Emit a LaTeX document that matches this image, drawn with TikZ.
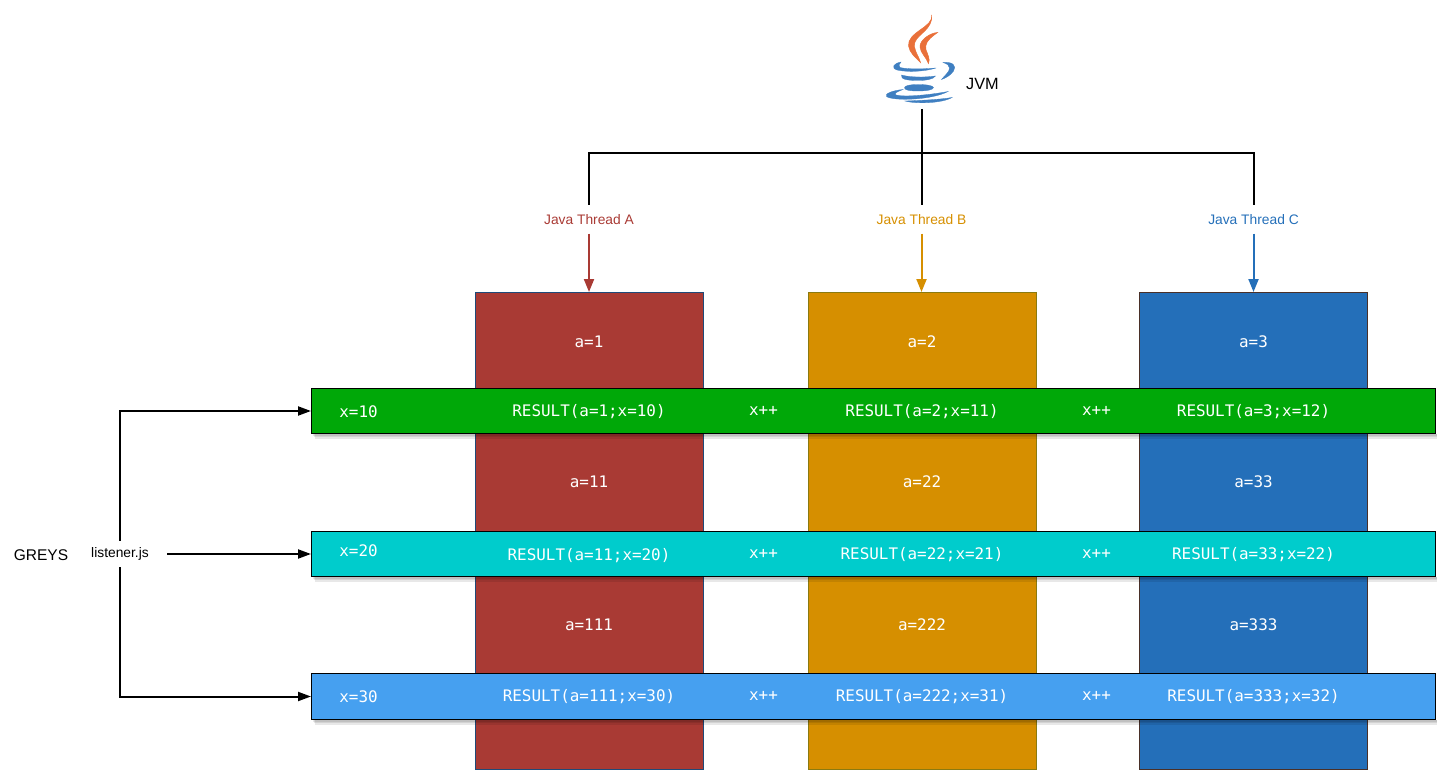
\documentclass[tikz,border=0pt]{standalone}
\usepackage{fontspec}
\setmainfont{Liberation Sans}
\newfontfamily\codefont{DejaVu Sans Mono}
\usetikzlibrary{arrows.meta,calc}
\definecolor{cred}{HTML}{A93A34}
\definecolor{corange}{HTML}{D68F00}
\definecolor{cblue}{HTML}{246FB9}
\definecolor{cgreen}{HTML}{00A808}
\definecolor{ccyan}{HTML}{00CCCC}
\definecolor{clight}{HTML}{46A0F0}
\definecolor{flame}{HTML}{E9703A}
\definecolor{cup}{HTML}{3F7FC1}
\definecolor{edgea}{HTML}{1F4A78}
\definecolor{edgeb}{HTML}{8A7A10}
\definecolor{edgec}{HTML}{4A3028}
\tikzset{
  column/.style={draw=#1,line width=1pt,minimum width=228pt,minimum height=477pt,inner sep=0pt},
  bar/.style={draw=black,line width=1pt,fill=#1,minimum width=1124pt,inner sep=0pt},
  code/.style={text=white,font=\codefont\fontsize{15.9}{17}\selectfont,inner sep=0pt},
  thread/.style={text=#1,font=\fontsize{13.8}{15}\selectfont,minimum height=28pt,inner sep=0pt},
  link/.style={line width=2pt,black},
  tiplink/.style={line width=2pt,-{Triangle[length=13pt,width=9pt]}},
  threadtip/.style={line width=2pt,#1,-{Triangle[length=13pt,width=10pt]}},
  flamepart/.style={fill=flame,draw=flame,line width=0.5pt},
  cuppart/.style={fill=cup,draw=cup,line width=0.3pt},
  barshadow/.style={fill=black,opacity=0.09}
}
\begin{document}
\begin{tikzpicture}[x=1pt,y=-1pt]
\useasboundingbox (0,0) rectangle (1447,781);
% logo
\filldraw[flamepart] (931.7,15) .. controls (934,27) and (907,32) .. (908.5,46) .. controls (909.5,53) and (916,58) .. (920.5,62.5) .. controls (918,54) and (912.5,49) .. (915,42) .. controls (918,34) and (933,29) .. (931.7,15) -- cycle;
\filldraw[flamepart] (937.5,32.5) .. controls (930,33) and (919.5,40) .. (920,47) .. controls (920.5,53) and (926,57) .. (928.5,63.5) .. controls (931,56) and (924.5,51) .. (925.7,46) .. controls (926.5,40) and (933,36) .. (937.5,32.5) -- cycle;
\filldraw[cuppart] (901,62) .. controls (893,63.5) and (891,68) .. (897,70) .. controls (908,72.5) and (925,71.5) .. (936,68) .. controls (925,69) and (908,69.5) .. (900,67.5) .. controls (898,66) and (899,64) .. (901,62) -- cycle;
\filldraw[cuppart] (901.5,75) .. controls (900,79.5) and (908,80.5) .. (918,80.5) .. controls (926,80.5) and (933,79.5) .. (935.5,76) .. controls (925,77.5) and (910,77.5) .. (901.5,75) -- cycle;
\filldraw[cuppart] (918,84.5) .. controls (909,84.5) and (904,86) .. (904.5,88) .. controls (905,90.5) and (911,91) .. (918,91) .. controls (926,91) and (933.5,90) .. (933.5,87.5) .. controls (933,85.5) and (926,84.5) .. (918,84.5) -- cycle;
\filldraw[cuppart] (903,89.5) .. controls (892,90.5) and (884,94) .. (886.5,96.5) .. controls (892,101) and (931,100.5) .. (948,91.5) .. controls (932,94.5) and (905,97.5) .. (896,95) .. controls (893,93.5) and (898,91.5) .. (903,89.5) -- cycle;
\filldraw[cuppart] (905,101) .. controls (915,104) and (942,103.5) .. (952,97.5) .. controls (940,99.5) and (920,100.5) .. (905,101) -- cycle;
\filldraw[cuppart] (943,62.5) .. controls (953,61.5) and (957,66) .. (953.5,71) .. controls (951,75) and (946,78) .. (941.5,79.5) .. controls (945,75) and (949.5,72) .. (949.5,68) .. controls (949.5,65) and (947,64) .. (943,62.5) -- cycle;
\node[inner sep=0pt,font=\fontsize{16.3}{18}\selectfont] (jvmlabel) at (982.5,84) {JVM};
\coordinate (jvm) at (921.5,109);
\coordinate (hub) at (921.5,152.5);
% threads
\node[thread=cred] (ta) at (589,219.5) {Java Thread A};
\node[thread=corange] (tb) at (921.5,219.5) {Java Thread B};
\node[thread=cblue] (tc) at (1253.5,219.5) {Java Thread C};
% columns
\node[column=edgea,fill=cred] (ca) at (589.5,531) {};
\node[column=edgeb,fill=corange] (cb) at (922.5,531) {};
\node[column=edgec,fill=cblue] (cc) at (1253.5,531) {};
\draw[link] (jvm) -- (hub);
\draw[link] (hub) -| (ta.north);
\draw[link] (hub) -- (tb.north);
\draw[link] (hub) -| (tc.north);
\draw[threadtip=cred] (ta.south) -- (ta.south |- ca.north);
\draw[threadtip=corange] (tb.south) -- (tb.south |- cb.north);
\draw[threadtip=cblue] (tc.south) -- (tc.south |- cc.north);
% column labels
\foreach \n/\t/\px/\py in {a1/a=1/589/342.2,a2/a=2/922/342.2,a3/a=3/1253.5/342.2,
  a11/a=11/589/482.2,a22/a=22/922/482.2,a33/a=33/1253.5/482.2,
  a111/a=111/589/625.2,a222/a=222/922/625.2,a333/a=333/1253.5/625.2}
  \node[code] (\n) at (\px,\py) {\t};
% shadows
\foreach \yy in {434,577,720}{
  \fill[barshadow] (312.5,\yy) rectangle (1437,\yy+1.5);
  \fill[barshadow] (313.5,\yy) rectangle (1437,\yy+3);
  \fill[barshadow] (314.5,\yy) rectangle (1437,\yy+4.5);
}
% bars
\node[bar=cgreen,minimum height=45pt] (b1) at (873.5,411) {};
\node[bar=ccyan,minimum height=45pt] (b2) at (873.5,554) {};
\node[bar=clight,minimum height=46pt] (b3) at (873.5,696.5) {};
\foreach \n/\t/\px/\py in {x1/x=10/358.5/411.4,x2/x=20/358.5/550.4,x3/x=30/358.5/696.4,
  r11/{RESULT(a=1;x=10)}/589/411.4,r12/{RESULT(a=2;x=11)}/922/411.4,r13/{RESULT(a=3;x=12)}/1253.5/411.4,
  r21/{RESULT(a=11;x=20)}/589/555.4,r22/{RESULT(a=22;x=21)}/922/554.4,r23/{RESULT(a=33;x=22)}/1253.5/554.4,
  r31/{RESULT(a=111;x=30)}/589/696.4,r32/{RESULT(a=222;x=31)}/922/696.4,r33/{RESULT(a=333;x=32)}/1253.5/696.4,
  p11/x++/763.5/411.4,p12/x++/1096.5/411.4,p21/x++/763.5/554.4,p22/x++/1096.5/554.4,p31/x++/763.5/696.4,p32/x++/1096.5/696.4}
  \node[code] (\n) at (\px,\py) {\t};
% left side
\node[inner sep=0pt,font=\fontsize{15.5}{18}\selectfont] (greys) at (41,555.5) {GREYS};
\node[inner sep=0pt,minimum width=94pt,minimum height=26pt,font=\fontsize{13.8}{15}\selectfont] (listener) at (120,554) {listener.js};
\draw[tiplink] (listener.north) |- (b1.west);
\draw[tiplink] (listener.east) -- (b2.west);
\draw[tiplink] (listener.south) |- (b3.west);
\end{tikzpicture}
\end{document}
